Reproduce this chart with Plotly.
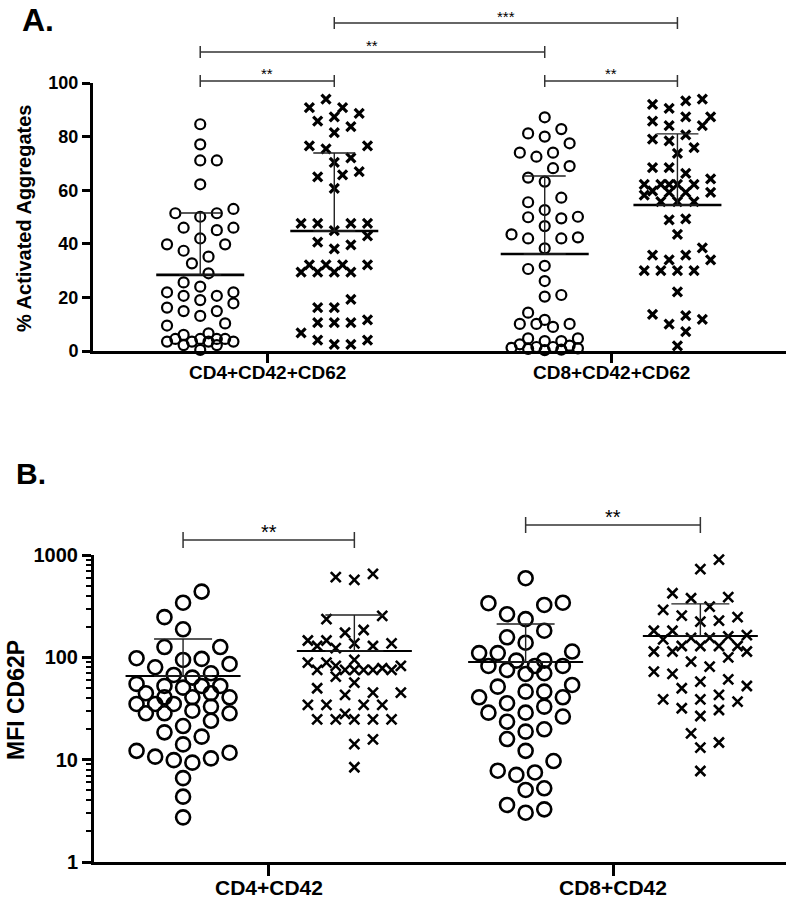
import numpy as np
import plotly.graph_objects as go

# ---------------- data ----------------
# Panel A: % activated aggregates (open circle / cross groups)
a_cd4_open = [84.6, 77.1, 71.1, 71.1, 62.2, 53.0, 51.4, 51.4, 50.1, 46.0, 46.0, 45.1, 42.0,
              39.8, 39.8, 37.4, 35.2, 32.7, 29.0, 25.6, 24.0, 21.9, 21.9, 20.6, 20.6, 19.0,
              17.8, 16.2, 14.9, 14.9, 13.1, 10.3, 9.5, 6.6, 6.0, 4.5, 4.5, 4.5, 4.5, 3.5,
              3.5, 3.5, 3.5, 2.2, 2.2, 0.4]
a_cd4_cross = [94.0, 90.8, 90.8, 88.7, 87.4, 85.8, 83.7, 81.5, 76.5, 76.5, 75.4, 72.1, 70.4,
               66.9, 65.7, 65.0, 60.7, 47.6, 47.6, 47.6, 47.6, 44.9, 43.0, 40.6, 39.6, 38.1,
               32.1, 32.1, 32.1, 32.1, 29.4, 29.4, 29.4, 29.4, 19.3, 16.2, 16.2, 11.6, 10.6,
               10.6, 10.6, 6.8, 4.1, 4.1, 2.5, 2.5]
a_cd8_open = [87.2, 82.8, 81.2, 80.0, 77.5, 74.0, 74.0, 72.5, 69.0, 68.2, 64.7, 63.2, 57.2,
              55.5, 52.6, 50.1, 49.9, 49.5, 46.6, 43.5, 42.4, 42.0, 42.0, 38.3, 31.8, 30.6,
              26.1, 20.9, 20.3, 14.3, 11.6, 10.1, 10.1, 10.1, 9.0, 4.7, 4.7, 3.7, 3.7, 2.5,
              2.0, 1.5, 1.5, 1.2, 1.0, 0.8, 0.5, 0.3]
a_cd8_cross = [94.0, 93.3, 92.0, 90.5, 87.4, 87.4, 85.8, 84.1, 84.1, 80.6, 79.1, 78.4, 75.9,
               73.7, 68.4, 68.4, 66.3, 64.2, 62.2, 62.2, 62.2, 62.2, 62.2, 59.7, 59.2, 59.2,
               59.2, 58.2, 55.7, 55.7, 55.7, 49.3, 48.9, 43.5, 38.5, 35.8, 35.8, 34.0, 34.0,
               30.0, 30.0, 30.0, 30.0, 22.1, 13.7, 13.2, 11.8, 10.0, 7.2, 1.9]
a_mean = [28.4, 44.8, 36.2, 54.5]
a_sd_top = [51.5, 73.9, 65.3, 81.0]
a_categories = ['CD4+CD42+CD62', 'CD8+CD42+CD62']

# Panel B: MFI CD62P (log scale)
b_cd4_open = [439, 342, 247, 188, 126, 126, 98, 96.5, 94.3, 86.2, 80, 69.9, 67.3, 63.4, 55,
              52.5, 52.5, 52.5, 50.6, 44.6, 44.6, 40.7, 40.7, 40.7, 35, 35, 35, 33, 30.1, 28.4,
              28.4, 28.4, 24, 21.3, 18.5, 16.8, 14.1, 12.2, 11.7, 10.7, 10.3, 9.9, 9.35, 6.6,
              4.35, 2.73]
b_cd4_cross = [654, 607, 571, 254, 236, 185, 174, 146, 146, 137, 137, 129, 129, 123, 94.3,
               88.8, 88.8, 82.4, 82.4, 78.2, 75.3, 75.3, 75.3, 75.3, 75.3, 75.3, 64.8, 56.6,
               49.9, 45.2, 45.2, 42.9, 34.3, 34.3, 34.3, 34.3, 28, 24.8, 24.8, 24.8, 24.8, 24.8,
               15.8, 14.2, 8.43]
b_cd8_open = [593, 342, 338, 325, 264, 236, 182, 157, 139, 114, 110, 110, 92.9, 92.9, 82.4,
              82.4, 82.4, 75.3, 69.9, 68.8, 53.7, 51.7, 46.2, 46.2, 40.7, 40.7, 35.6, 33, 28.8,
              28.8, 26.4, 23.5, 19.8, 18.8, 15.9, 12.2, 9.7, 7.8, 7.5, 7.1, 5.25, 5.06, 3.61,
              3.27, 3.03]
b_cd8_cross = [900, 727, 423, 387, 378, 313, 291, 256, 247, 228, 223, 182, 182, 165, 160, 155,
               155, 150, 129, 129, 129, 129, 114, 114, 114, 100, 90.8, 81, 72.4, 68.8, 61, 57.8,
               52.5, 49.9, 42.9, 38.9, 38.9, 36.9, 31.8, 30.6, 26.7, 18.1, 14.7, 13.1, 7.75]
b_mean = [65.8, 115.6, 90, 162]
b_sd_top = [151, 259, 212, 333]
b_categories = ['CD4+CD42', 'CD8+CD42']

# significance brackets: (group i, group j, label)
a_brackets = [(0, 1, '**'), (0, 2, '**'), (1, 3, '***'), (2, 3, '**')]
b_brackets = [(0, 1, '**'), (2, 3, '**')]

# ---------------- layout geometry ----------------
W, H = 786, 900
FONT = 'Liberation Sans, Arial, sans-serif'

a_pos = [1.0, 2.0, 3.57, 4.56]
a_xrange = [0.2, 5.37]
a_xdom = [93 / W, 1.0]
a_ydom = [1 - 351 / H, 1 - 83 / H]

b_pos = [1.0, 2.0, 3.0, 4.02]
b_xrange = [0.48, 4.52]
b_xdom = [94 / W, 1.0]
b_ydom = [1 - 862 / H, 1 - 555 / H]

a_px_x = (a_xdom[1] - a_xdom[0]) * W / (a_xrange[1] - a_xrange[0])
a_px_y = (a_ydom[1] - a_ydom[0]) * H / 100.0
b_px_x = (b_xdom[1] - b_xdom[0]) * W / (b_xrange[1] - b_xrange[0])
b_px_y = (b_ydom[1] - b_ydom[0]) * H / 3.0


def swarm(values, px_y, step, min_dist, max_k):
    """Beeswarm offsets (px): side-by-side dots, capped width, overlaps allowed when crowded."""
    ys = np.asarray(values, dtype=float) * px_y
    offs = np.zeros(len(ys))
    placed = []
    flip = 1
    for i in np.argsort(ys):
        y = ys[i]
        cands = [0]
        for k in range(1, max_k + 1):
            cands += [flip * k, -flip * k]
        best, best_d = None, -1.0
        for c in cands:
            x = c * step
            d = min([np.hypot(x - px, y - py) for px, py in placed] or [1e9])
            if d >= min_dist:
                best = x
                break
            if d > best_d + 0.5:
                best, best_d = x, d
        if best != 0:
            flip = -flip
        placed.append((best, y))
        offs[i] = best
    return offs


fig = go.Figure()

# ---------- panel A ----------
a_sets = [a_cd4_open, a_cd4_cross, a_cd8_open, a_cd8_cross]
for g, vals in enumerate(a_sets):
    off = swarm(vals, a_px_y, 8.3, 15.0, 4)
    x = a_pos[g] + off / a_px_x
    if g % 2 == 0:
        marker = dict(symbol='circle-open', size=10, color='black', line=dict(width=2.2))
    else:
        marker = dict(symbol='x-thin', size=9, color='black', line=dict(width=3.2, color='black'))
    fig.add_trace(go.Scatter(x=x, y=vals, mode='markers', marker=marker, cliponaxis=False,
                             xaxis='x', yaxis='y', showlegend=False, hoverinfo='y'))
    hw = 44 / a_px_x
    fig.add_trace(go.Scatter(x=[a_pos[g] - hw, a_pos[g] + hw], y=[a_mean[g], a_mean[g]],
                             mode='lines', line=dict(color='black', width=2.6),
                             xaxis='x', yaxis='y', showlegend=False, hoverinfo='skip'))
    fig.add_trace(go.Scatter(x=[a_pos[g]], y=[a_mean[g]], mode='markers',
                             marker=dict(size=1, opacity=0),
                             error_y=dict(type='data', symmetric=False,
                                          array=[a_sd_top[g] - a_mean[g]], arrayminus=[0],
                                          width=21, thickness=1.4, color='#222'),
                             xaxis='x', yaxis='y', showlegend=False, hoverinfo='skip'))

# ---------- panel B ----------
b_sets = [b_cd4_open, b_cd4_cross, b_cd8_open, b_cd8_cross]
for g, vals in enumerate(b_sets):
    off = swarm(np.log10(vals), b_px_y, 9.3, 17.0, 5)
    x = b_pos[g] + off / b_px_x
    if g % 2 == 0:
        marker = dict(symbol='circle-open', size=14, color='black', line=dict(width=2.6))
    else:
        marker = dict(symbol='x-thin', size=10, color='black', line=dict(width=2.6, color='black'))
    fig.add_trace(go.Scatter(x=x, y=vals, mode='markers', marker=marker, cliponaxis=False,
                             xaxis='x2', yaxis='y2', showlegend=False, hoverinfo='y'))
    hw = 57.5 / b_px_x
    fig.add_trace(go.Scatter(x=[b_pos[g] - hw, b_pos[g] + hw], y=[b_mean[g], b_mean[g]],
                             mode='lines', line=dict(color='black', width=2),
                             xaxis='x2', yaxis='y2', showlegend=False, hoverinfo='skip'))
    fig.add_trace(go.Scatter(x=[b_pos[g]], y=[b_mean[g]], mode='markers',
                             marker=dict(size=1, opacity=0),
                             error_y=dict(type='data', symmetric=False,
                                          array=[b_sd_top[g] - b_mean[g]], arrayminus=[0],
                                          width=29, thickness=1.4, color='#222'),
                             xaxis='x2', yaxis='y2', showlegend=False, hoverinfo='skip'))

# ---------- brackets ----------
shapes = []
annotations = []


def add_bracket(xref, x0, x1, y_px, tick_px, label, txt_px, size):
    yl = 1 - y_px / H
    t = tick_px / H
    line = dict(color='#333', width=1.5)
    shapes.append(dict(type='line', xref=xref, yref='paper', x0=x0, x1=x1, y0=yl, y1=yl, line=line))
    for xx in (x0, x1):
        shapes.append(dict(type='line', xref=xref, yref='paper', x0=xx, x1=xx,
                           y0=yl - t, y1=yl + t, line=line))
    annotations.append(dict(xref=xref, yref='paper', x=(x0 + x1) / 2, y=1 - txt_px / H,
                            text=label, showarrow=False, yanchor='middle',
                            font=dict(family=FONT, size=size, color='black')))


a_levels = [81, 52, 23, 81]
for (i, j, lab), lvl in zip(a_brackets, a_levels):
    add_bracket('x', a_pos[i], a_pos[j], lvl, 6, lab, lvl - 7, 15)

b_levels = [540, 525]
for (i, j, lab), lvl in zip(b_brackets, b_levels):
    add_bracket('x2', b_pos[i], b_pos[j], lvl, 8, lab, lvl - 8, 20)

# category labels under the axes
for k, lab in enumerate(a_categories):
    annotations.append(dict(xref='x', yref='paper', x=(a_pos[2 * k] + a_pos[2 * k + 1]) / 2,
                            y=1 - 372 / H, text='<b>' + lab + '</b>', showarrow=False,
                            yanchor='middle', font=dict(family=FONT, size=19, color='black')))
for k, lab in enumerate(b_categories):
    annotations.append(dict(xref='x2', yref='paper', x=(b_pos[2 * k] + b_pos[2 * k + 1]) / 2,
                            y=1 - 887 / H, text='<b>' + lab + '</b>', showarrow=False,
                            yanchor='middle', font=dict(family=FONT, size=21, color='black')))

# panel letters and axis titles
annotations += [
    dict(xref='paper', yref='paper', x=20 / W, y=1.0, text='<b>A.</b>', showarrow=False,
         xanchor='left', yanchor='top', font=dict(family=FONT, size=32, color='black')),
    dict(xref='paper', yref='paper', x=14 / W, y=1 - 455 / H, text='<b>B.</b>', showarrow=False,
         xanchor='left', yanchor='top', font=dict(family=FONT, size=30, color='black')),
    dict(xref='paper', yref='paper', x=24 / W, y=1 - 219 / H, text='<b>% Activated Aggregates</b>',
         textangle=-90, showarrow=False, xanchor='center', yanchor='middle',
         font=dict(family=FONT, size=20, color='black')),
    dict(xref='paper', yref='paper', x=16 / W, y=1 - 700 / H, text='<b>MFI CD62P</b>',
         textangle=-90, showarrow=False, xanchor='center', yanchor='middle',
         font=dict(family=FONT, size=23, color='black')),
]

axis_common = dict(showline=True, linecolor='black', showgrid=False, zeroline=False,
                   ticks='outside', tickcolor='black', automargin=False)

fig.update_layout(
    width=W, height=H,
    margin=dict(l=0, r=0, t=0, b=0, pad=0),
    paper_bgcolor='white', plot_bgcolor='white',
    xaxis=dict(domain=a_xdom, range=a_xrange, tickvals=[(a_pos[0] + a_pos[1]) / 2,
                                                        (a_pos[2] + a_pos[3]) / 2],
               showticklabels=False, anchor='y', linewidth=3, ticklen=9, tickwidth=2.5,
               **axis_common),
    yaxis=dict(domain=a_ydom, range=[0, 100], dtick=20, anchor='x', linewidth=3, ticklen=8,
               tickwidth=2.5, tickfont=dict(family=FONT, size=18, color='black', weight='bold'),
               **axis_common),
    xaxis2=dict(domain=b_xdom, range=b_xrange, tickvals=[(b_pos[0] + b_pos[1]) / 2,
                                                         (b_pos[2] + b_pos[3]) / 2],
                showticklabels=False, anchor='y2', linewidth=3, ticklen=11, tickwidth=3,
                **axis_common),
    yaxis2=dict(domain=b_ydom, type='log', range=[0, 3], tickvals=[1, 10, 100, 1000],
                ticktext=['1', '10', '100', '1000'], anchor='x2', linewidth=3, ticklen=9,
                tickwidth=2.5, tickfont=dict(family=FONT, size=20, color='black', weight='bold'),
                minor=dict(ticks='outside', ticklen=5, tickwidth=2, tickcolor='black', dtick='D1'),
                **axis_common),
    shapes=shapes,
    annotations=annotations,
)

# the page body has a default 8px margin; drop it so the figure sits at the window origin
fig.write_html('out.html', config={'displayModeBar': False},
               post_script="document.body.style.margin='0';")
